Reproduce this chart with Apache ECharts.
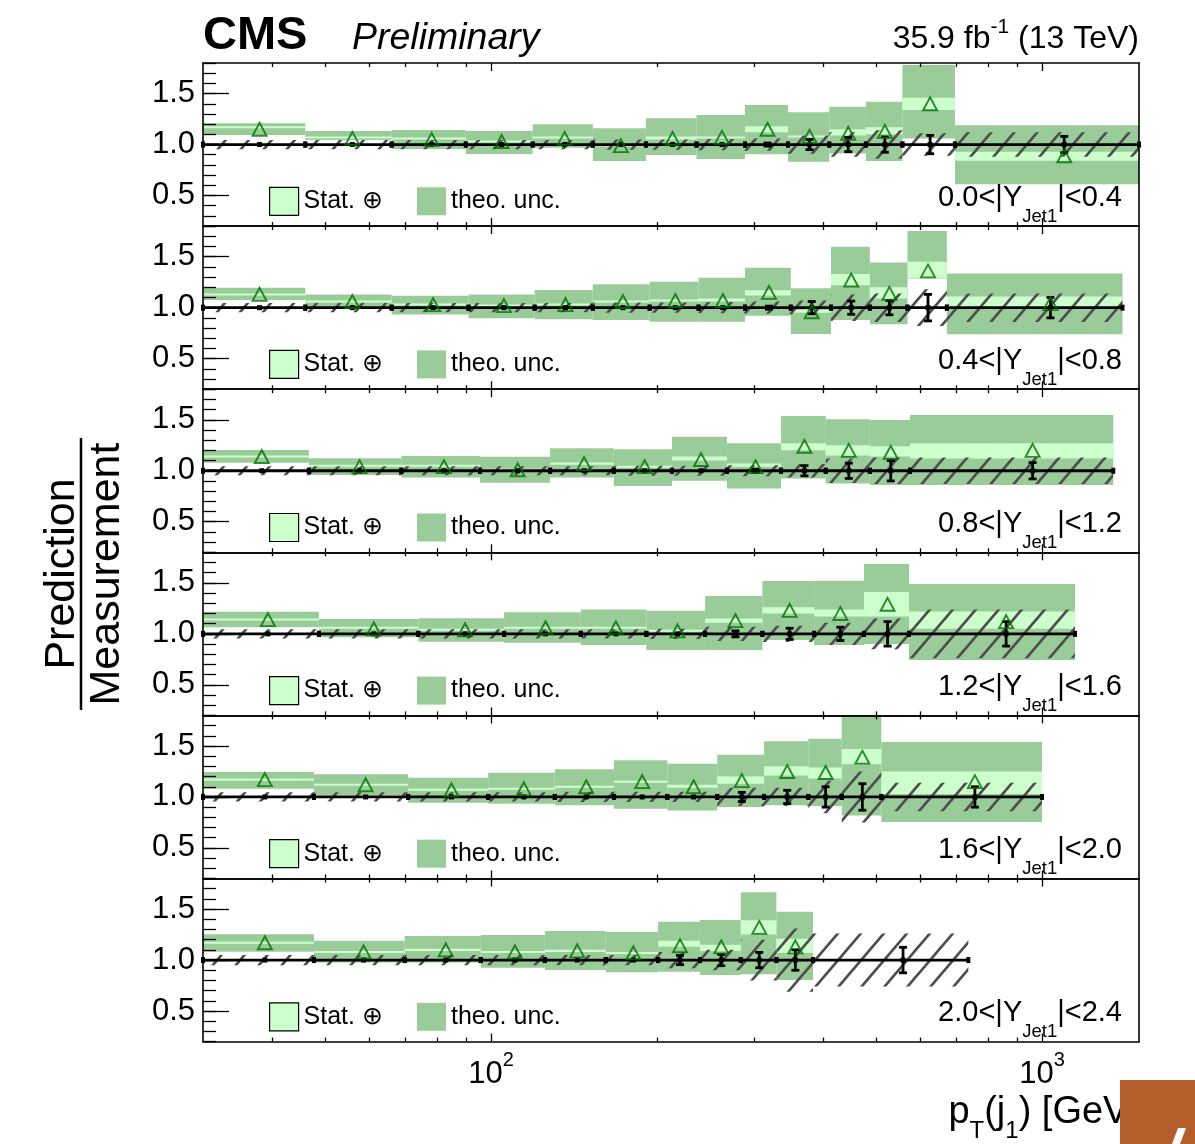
<!DOCTYPE html>
<html><head><meta charset="utf-8">
<script src="https://cdn.jsdelivr.net/npm/echarts@6/dist/echarts.min.js"></script>
<style>html,body{margin:0;padding:0;background:#fff}#c{width:1195px;height:1144px}</style>
</head><body><div id="c"></div>
<script>
// ---------------- data ----------------
const rapidityEdges = ['0.0','0.4','0.8','1.2','1.6','2.0','2.4'];
const xTickMinor = [40,50,60,70,80,90,200,300,400,500,600,700,800,900];
const xTickMajor = [100,1000];
const yTickMajor = [0.5,1.0,1.5];

const binEdges = [
 [30,46,66,90,119,153,191,236,289,346,411,479,558,695,1500],
 [30,46,66,91,120,153,194,238,289,350,414,487,570,672,1400],
 [30,46.7,68.7,95.5,128,167,213,268,336,405,487,576,1347],
 [30,48.7,73.8,105.6,145.5,191.4,244.6,310.8,385.8,475.3,573.6,1148],
 [30,47.7,70.7,98.8,130.5,167.2,208.9,257.4,313,376.6,433,511,1000],
 [30,47.7,69.7,95.8,125.2,161.5,201,239.5,284,329.5,384,735]
];
const prediction = [
 [1.15,1.06,1.05,1.03,1.06,0.99,1.06,1.07,1.15,1.08,1.11,1.13,1.40,0.89],
 [1.13,1.06,1.03,1.02,1.03,1.06,1.07,1.07,1.15,0.96,1.27,1.14,1.36,1.04],
 [1.14,1.04,1.04,1.01,1.07,1.04,1.11,1.04,1.24,1.20,1.18,1.20],
 [1.14,1.05,1.04,1.06,1.06,1.03,1.13,1.23,1.20,1.29,1.12],
 [1.17,1.12,1.07,1.08,1.10,1.15,1.10,1.16,1.25,1.24,1.39,1.15],
 [1.17,1.08,1.10,1.08,1.09,1.07,1.14,1.13,1.32,1.13,null]
];
const theoLow = [
 [1.093,1.044,0.956,0.907,0.969,0.838,0.897,0.858,0.904,0.832,0.913,0.838,1.06,0.61],
 [1.075,1.01,0.934,0.895,0.885,0.878,0.862,0.862,0.921,0.741,0.878,0.836,1.287,0.738],
 [1.079,0.958,0.935,0.883,0.935,0.85,0.902,0.827,0.925,0.876,0.86,0.86],
 [1.064,0.966,0.923,0.913,0.89,0.841,0.841,0.939,0.89,0.9,0.743],
 [1.081,1.016,0.944,0.934,0.918,0.885,0.868,0.901,0.918,0.911,0.819,0.754],
 [1.082,0.977,0.977,0.925,0.902,0.88,0.886,0.853,0.86,0.804,null]
];
const theoHigh = [
 [1.208,1.133,1.142,1.133,1.20,1.159,1.257,1.29,1.388,1.316,1.371,1.42,1.78,1.19],
 [1.196,1.13,1.117,1.13,1.173,1.229,1.255,1.294,1.392,1.19,1.598,1.444,1.752,1.336],
 [1.203,1.122,1.145,1.138,1.22,1.21,1.334,1.269,1.537,1.504,1.498,1.547],
 [1.217,1.145,1.152,1.211,1.24,1.227,1.371,1.518,1.522,1.685,1.489],
 [1.245,1.222,1.189,1.238,1.271,1.359,1.326,1.415,1.546,1.572,1.80,1.539],
 [1.252,1.19,1.236,1.245,1.285,1.275,1.376,1.393,1.664,1.475,null]
];
const statLow = [
 [1.16,1.06,1.05,1.02,1.06,0.98,1.05,1.06,1.12,1.07,1.09,1.10,1.34,0.84],
 [1.12,1.05,1.02,1.01,1.02,1.05,1.06,1.06,1.12,0.95,1.22,1.09,1.29,1.01],
 [1.13,1.04,1.04,1.00,1.06,1.03,1.10,1.04,1.20,1.15,1.14,1.12],
 [1.13,1.05,1.03,1.05,1.05,1.02,1.11,1.20,1.17,1.17,1.05],
 [1.16,1.11,1.06,1.07,1.09,1.14,1.09,1.13,1.21,1.18,1.32,1.03],
 [1.16,1.07,1.09,1.07,1.08,1.06,1.13,1.09,1.25,1.07,null]
];
const statHigh = [
 [1.18,1.08,1.07,1.04,1.08,1.00,1.08,1.08,1.18,1.09,1.15,1.17,1.46,0.93],
 [1.14,1.07,1.04,1.03,1.04,1.07,1.08,1.09,1.17,0.98,1.33,1.20,1.45,1.11],
 [1.15,1.06,1.06,1.02,1.08,1.05,1.14,1.07,1.27,1.25,1.24,1.27],
 [1.15,1.07,1.05,1.07,1.07,1.04,1.15,1.26,1.24,1.41,1.22],
 [1.18,1.13,1.08,1.09,1.11,1.16,1.12,1.20,1.30,1.29,1.47,1.25],
 [1.18,1.09,1.11,1.09,1.10,1.08,1.19,1.15,1.39,1.21,null]
];
const measSystHalf = [
 [0.045,0.045,0.045,0.045,0.045,0.05,0.05,0.055,0.06,0.09,0.12,0.14,0.11,0.12],
 [0.045,0.045,0.045,0.045,0.045,0.05,0.05,0.055,0.06,0.07,0.13,0.14,0.18,0.14],
 [0.045,0.045,0.045,0.045,0.045,0.05,0.05,0.055,0.065,0.12,0.13,0.13],
 [0.045,0.045,0.045,0.045,0.045,0.05,0.07,0.08,0.11,0.15,0.24],
 [0.045,0.045,0.045,0.045,0.05,0.05,0.05,0.09,0.09,0.16,0.25,0.14],
 [0.05,0.05,0.05,0.05,0.05,0.05,0.08,0.10,0.20,0.31,0.26]
];
const measStatHalf = [
 [0.003,0.003,0.003,0.004,0.005,0.006,0.008,0.01,0.015,0.05,0.07,0.075,0.09,0.08],
 [0.003,0.003,0.003,0.004,0.005,0.006,0.008,0.01,0.015,0.06,0.065,0.07,0.13,0.10],
 [0.003,0.003,0.003,0.004,0.005,0.006,0.01,0.015,0.05,0.075,0.10,0.08],
 [0.003,0.003,0.003,0.004,0.005,0.006,0.03,0.055,0.065,0.12,0.12],
 [0.003,0.003,0.003,0.004,0.005,0.006,0.01,0.045,0.065,0.10,0.13,0.10],
 [0.003,0.003,0.003,0.004,0.005,0.01,0.045,0.055,0.075,0.10,0.125]
];

// ---------------- styling ----------------
const FF = '"Liberation Sans", Arial, Helvetica, sans-serif';
const DARK = '#99cc99', LIGHT = '#ccffcc', TRI = '#007000';
const X_MIN = 30, X_MAX = 1500, Y_MIN = 0.2, Y_MAX = 1.8;
const PANEL_TOP = 63, PANEL_H = 163.1, PLOT_LEFT = 203, PLOT_W = 936;

function makeHatch(){
  const w = 23, h = 27;
  const c = document.createElement('canvas'); c.width = w; c.height = h;
  const g = c.getContext('2d');
  g.strokeStyle = '#4d4d4d'; g.lineWidth = 2.7;
  for (const k of [-1,0,1]) {
    g.beginPath();
    g.moveTo(k*w - 2, h + 2*h/w);
    g.lineTo(k*w + w + 2, -2*h/w);
    g.stroke();
  }
  return {type:'pattern', image:c, repeat:'repeat'};
}
const hatch = makeHatch();

function bandRenderer(fill){
  return function(params, api){
    const a = api.coord([api.value(0), api.value(3)]);
    const b = api.coord([api.value(1), api.value(2)]);
    return {type:'rect', shape:{x:a[0], y:a[1], width:b[0]-a[0], height:b[1]-a[1]}, style:{fill:fill}};
  };
}
function measRenderer(params, api){
  const lo = api.value(0), hi = api.value(1), c = api.value(2), e = api.value(3);
  const pL = api.coord([lo,1]), pR = api.coord([hi,1]), pC = api.coord([c,1]);
  const st = {stroke:'#000', lineWidth:2.8};
  const ch = [
    {type:'line', shape:{x1:pL[0], y1:pL[1], x2:pR[0], y2:pR[1]}, style:st},
    {type:'rect', shape:{x:pL[0]-2, y:pL[1]-3, width:4, height:6}, style:{fill:'#000'}},
    {type:'rect', shape:{x:pR[0]-2, y:pR[1]-3, width:4, height:6}, style:{fill:'#000'}},
    {type:'rect', shape:{x:pC[0]-2.5, y:pC[1]-2.5, width:5, height:5}, style:{fill:'#000'}}
  ];
  if (e > 0.012) {
    const t = api.coord([c, 1+e]), b = api.coord([c, 1-e]);
    ch.push({type:'line', shape:{x1:t[0], y1:t[1], x2:b[0], y2:b[1]}, style:st});
    ch.push({type:'line', shape:{x1:t[0]-4, y1:t[1], x2:t[0]+4, y2:t[1]}, style:st});
    ch.push({type:'line', shape:{x1:b[0]-4, y1:b[1], x2:b[0]+4, y2:b[1]}, style:st});
  }
  return {type:'group', children:ch};
}

const grid = [], xAxis = [], yAxis = [], series = [], legend = [], title = [];
const lineStyle = {color:'#000', width:1.6};
const tickStyle = {color:'#000', width:1.3};

for (let p = 0; p < 6; p++) {
  const top = PANEL_TOP + p*PANEL_H;
  const last = p === 5;
  grid.push({left:PLOT_LEFT, top:top, width:PLOT_W, height:PANEL_H, containLabel:false, outerBoundsMode:'none', show:false});
  const bx = {type:'log', logBase:10, min:X_MIN, max:X_MAX, gridIndex:p, splitLine:{show:false}, z:10};
  xAxis.push(Object.assign({}, bx, {position:'bottom', axisLine:{show:true, lineStyle:lineStyle},
    axisTick:{show:true, inside:true, length:4, customValues:xTickMinor, lineStyle:tickStyle}, axisLabel:{show:false}}));
  xAxis.push(Object.assign({}, bx, {position:'bottom', axisLine:{show:false},
    axisTick:{show:true, inside:true, length:8, customValues:xTickMajor, lineStyle:tickStyle},
    axisLabel:{show:last, customValues:xTickMajor, margin:9,
      formatter: v => '{b|10}{s|' + Math.round(Math.log10(v)) + '}',
      rich:{b:{fontSize:31, fontFamily:FF, color:'#000', lineHeight:31, padding:[8,0,0,0], verticalAlign:'top'},
            s:{fontSize:20, fontFamily:FF, color:'#000', lineHeight:20, verticalAlign:'top'}}}}));
  xAxis.push(Object.assign({}, bx, {position:'top', axisLine:{show:true, lineStyle:lineStyle},
    axisTick:{show:true, inside:true, length:4, customValues:xTickMinor, lineStyle:tickStyle}, axisLabel:{show:false}}));
  xAxis.push(Object.assign({}, bx, {position:'top', axisLine:{show:false},
    axisTick:{show:true, inside:true, length:8, customValues:xTickMajor, lineStyle:tickStyle}, axisLabel:{show:false}}));

  const by = {type:'value', min:Y_MIN, max:Y_MAX, gridIndex:p, splitLine:{show:false}, z:10};
  yAxis.push(Object.assign({}, by, {position:'left', interval:0.1, axisLine:{show:true, lineStyle:lineStyle},
    axisTick:{show:true, inside:true, length:13, lineStyle:tickStyle}, axisLabel:{show:false}}));
  yAxis.push(Object.assign({}, by, {position:'left', axisLine:{show:false},
    axisTick:{show:true, inside:true, length:26, customValues:yTickMajor, lineStyle:tickStyle},
    axisLabel:{show:true, customValues:yTickMajor, formatter: v => v.toFixed(1), fontSize:31, fontFamily:FF, color:'#000', margin:8}}));
  yAxis.push(Object.assign({}, by, {position:'right', axisLine:{show:true, lineStyle:lineStyle},
    axisTick:{show:false}, axisLabel:{show:false}}));

  const xi = p*4, yi = p*3 + 1;
  const e = binEdges[p];
  const theo = [], stat = [], syst = [], meas = [], pred = [];
  for (let i = 0; i < e.length - 1; i++) {
    const lo = e[i], hi = e[i+1], c = (lo + hi)/2;
    if (prediction[p][i] != null) {
      theo.push([lo, hi, theoLow[p][i], theoHigh[p][i]]);
      stat.push([lo, hi, statLow[p][i], statHigh[p][i]]);
      pred.push([c, prediction[p][i]]);
    }
    syst.push([lo, hi, 1 - measSystHalf[p][i], 1 + measSystHalf[p][i]]);
    meas.push([lo, hi, c, measStatHalf[p][i]]);
  }
  series.push({name:'theo. unc.', type:'custom', xAxisIndex:xi, yAxisIndex:yi, z:2, silent:true,
    renderItem:bandRenderer(DARK), encode:{x:[0,1], y:[2,3]}, data:theo, itemStyle:{color:DARK}});
  series.push({name:'Stat. ⊕', type:'custom', xAxisIndex:xi, yAxisIndex:yi, z:3, silent:true,
    renderItem:bandRenderer(LIGHT), encode:{x:[0,1], y:[2,3]}, data:stat, itemStyle:{color:LIGHT}});
  series.push({name:'meas. syst.', type:'custom', xAxisIndex:xi, yAxisIndex:yi, z:4, silent:true,
    renderItem:bandRenderer(hatch), encode:{x:[0,1], y:[2,3]}, data:syst});
  series.push({name:'Measurement', type:'custom', xAxisIndex:xi, yAxisIndex:yi, z:5, silent:true,
    renderItem:measRenderer, encode:{x:[0,1,2], y:3}, data:meas});
  series.push({name:'Prediction', type:'scatter', xAxisIndex:xi, yAxisIndex:yi, z:6, silent:true,
    symbol:'triangle', symbolSize:[14,13], data:pred,
    itemStyle:{color:'rgba(0,0,0,0)', borderColor:TRI, borderWidth:1.9}});

  legend.push({show:true, selectedMode:false, orient:'horizontal', left:269, top:top+123.7,
    itemWidth:29, itemHeight:28, itemGap:34, padding:0,
    textStyle:{fontSize:25, fontFamily:FF, color:'#000'},
    data:[{name:'Stat. ⊕', icon:'rect', itemStyle:{color:LIGHT, borderColor:'#000', borderWidth:1.2}},
          {name:'theo. unc.', icon:'rect', itemStyle:{color:DARK, borderWidth:0}}]});

  title.push({text:'{a|' + rapidityEdges[p] + '<|Y}{s|Jet1}{a||<' + rapidityEdges[p+1] + '}',
    right:73, top:top+120, padding:0,
    textStyle:{fontWeight:'normal', rich:{
      a:{fontSize:29, fontFamily:FF, fontWeight:'normal', color:'#000', lineHeight:29, verticalAlign:'top'},
      s:{fontSize:18.5, fontFamily:FF, fontWeight:'normal', color:'#000', lineHeight:18.5, padding:[24,0,0,0], verticalAlign:'top'}}}});
}

title.push({text:'CMS', left:203, top:13, padding:0, textStyle:{fontSize:47, fontWeight:'bold', fontFamily:FF, color:'#000'}});
title.push({text:'Preliminary', left:352, top:20, padding:0, textStyle:{fontSize:37.5, fontStyle:'italic', fontWeight:'normal', fontFamily:FF, color:'#000'}});
title.push({text:'{a|35.9 fb}{s|-1}{a| (13 TeV)}', right:56, top:17, padding:0,
  textStyle:{fontWeight:'normal', rich:{
    a:{fontSize:32, fontFamily:FF, fontWeight:'normal', color:'#000', lineHeight:32, padding:[6,0,0,0], verticalAlign:'top'},
    s:{fontSize:21, fontFamily:FF, fontWeight:'normal', color:'#000', lineHeight:21, verticalAlign:'top'}}}});

const graphic = [
  {type:'text', x:62, y:574, rotation:Math.PI/2, style:{text:'Prediction', font:'43px ' + FF, fill:'#000', align:'center', verticalAlign:'middle'}},
  {type:'line', shape:{x1:81, y1:438, x2:81, y2:710}, style:{stroke:'#000', lineWidth:2.5}},
  {type:'text', x:107, y:574, rotation:Math.PI/2, style:{text:'Measurement', font:'43px ' + FF, fill:'#000', align:'center', verticalAlign:'middle'}},
  {type:'text', x:1139, y:1094, style:{text:'{a|p}{s|T}{a|(j}{s|1}{a|) [GeV]}', align:'right', verticalAlign:'top',
    rich:{a:{fontSize:38, fontFamily:FF, fill:'#000', lineHeight:38, verticalAlign:'top'},
          s:{fontSize:24, fontFamily:FF, fill:'#000', lineHeight:24, padding:[25,0,0,0], verticalAlign:'top'}}}},
  {type:'rect', shape:{x:1120, y:1080, width:75, height:64}, style:{fill:'#b35e2b'}, z:100},
  {type:'polygon', shape:{points:[[1172,1144],[1178,1128],[1186,1128],[1180,1144]]}, style:{fill:'#ffffff'}, z:101}
];

const chart = echarts.init(document.getElementById('c'), null, {renderer:'canvas'});
chart.setOption({
  animation:false, backgroundColor:'#fff',
  grid:grid, xAxis:xAxis, yAxis:yAxis, series:series, legend:legend, title:title, graphic:graphic
});
</script></body></html>
